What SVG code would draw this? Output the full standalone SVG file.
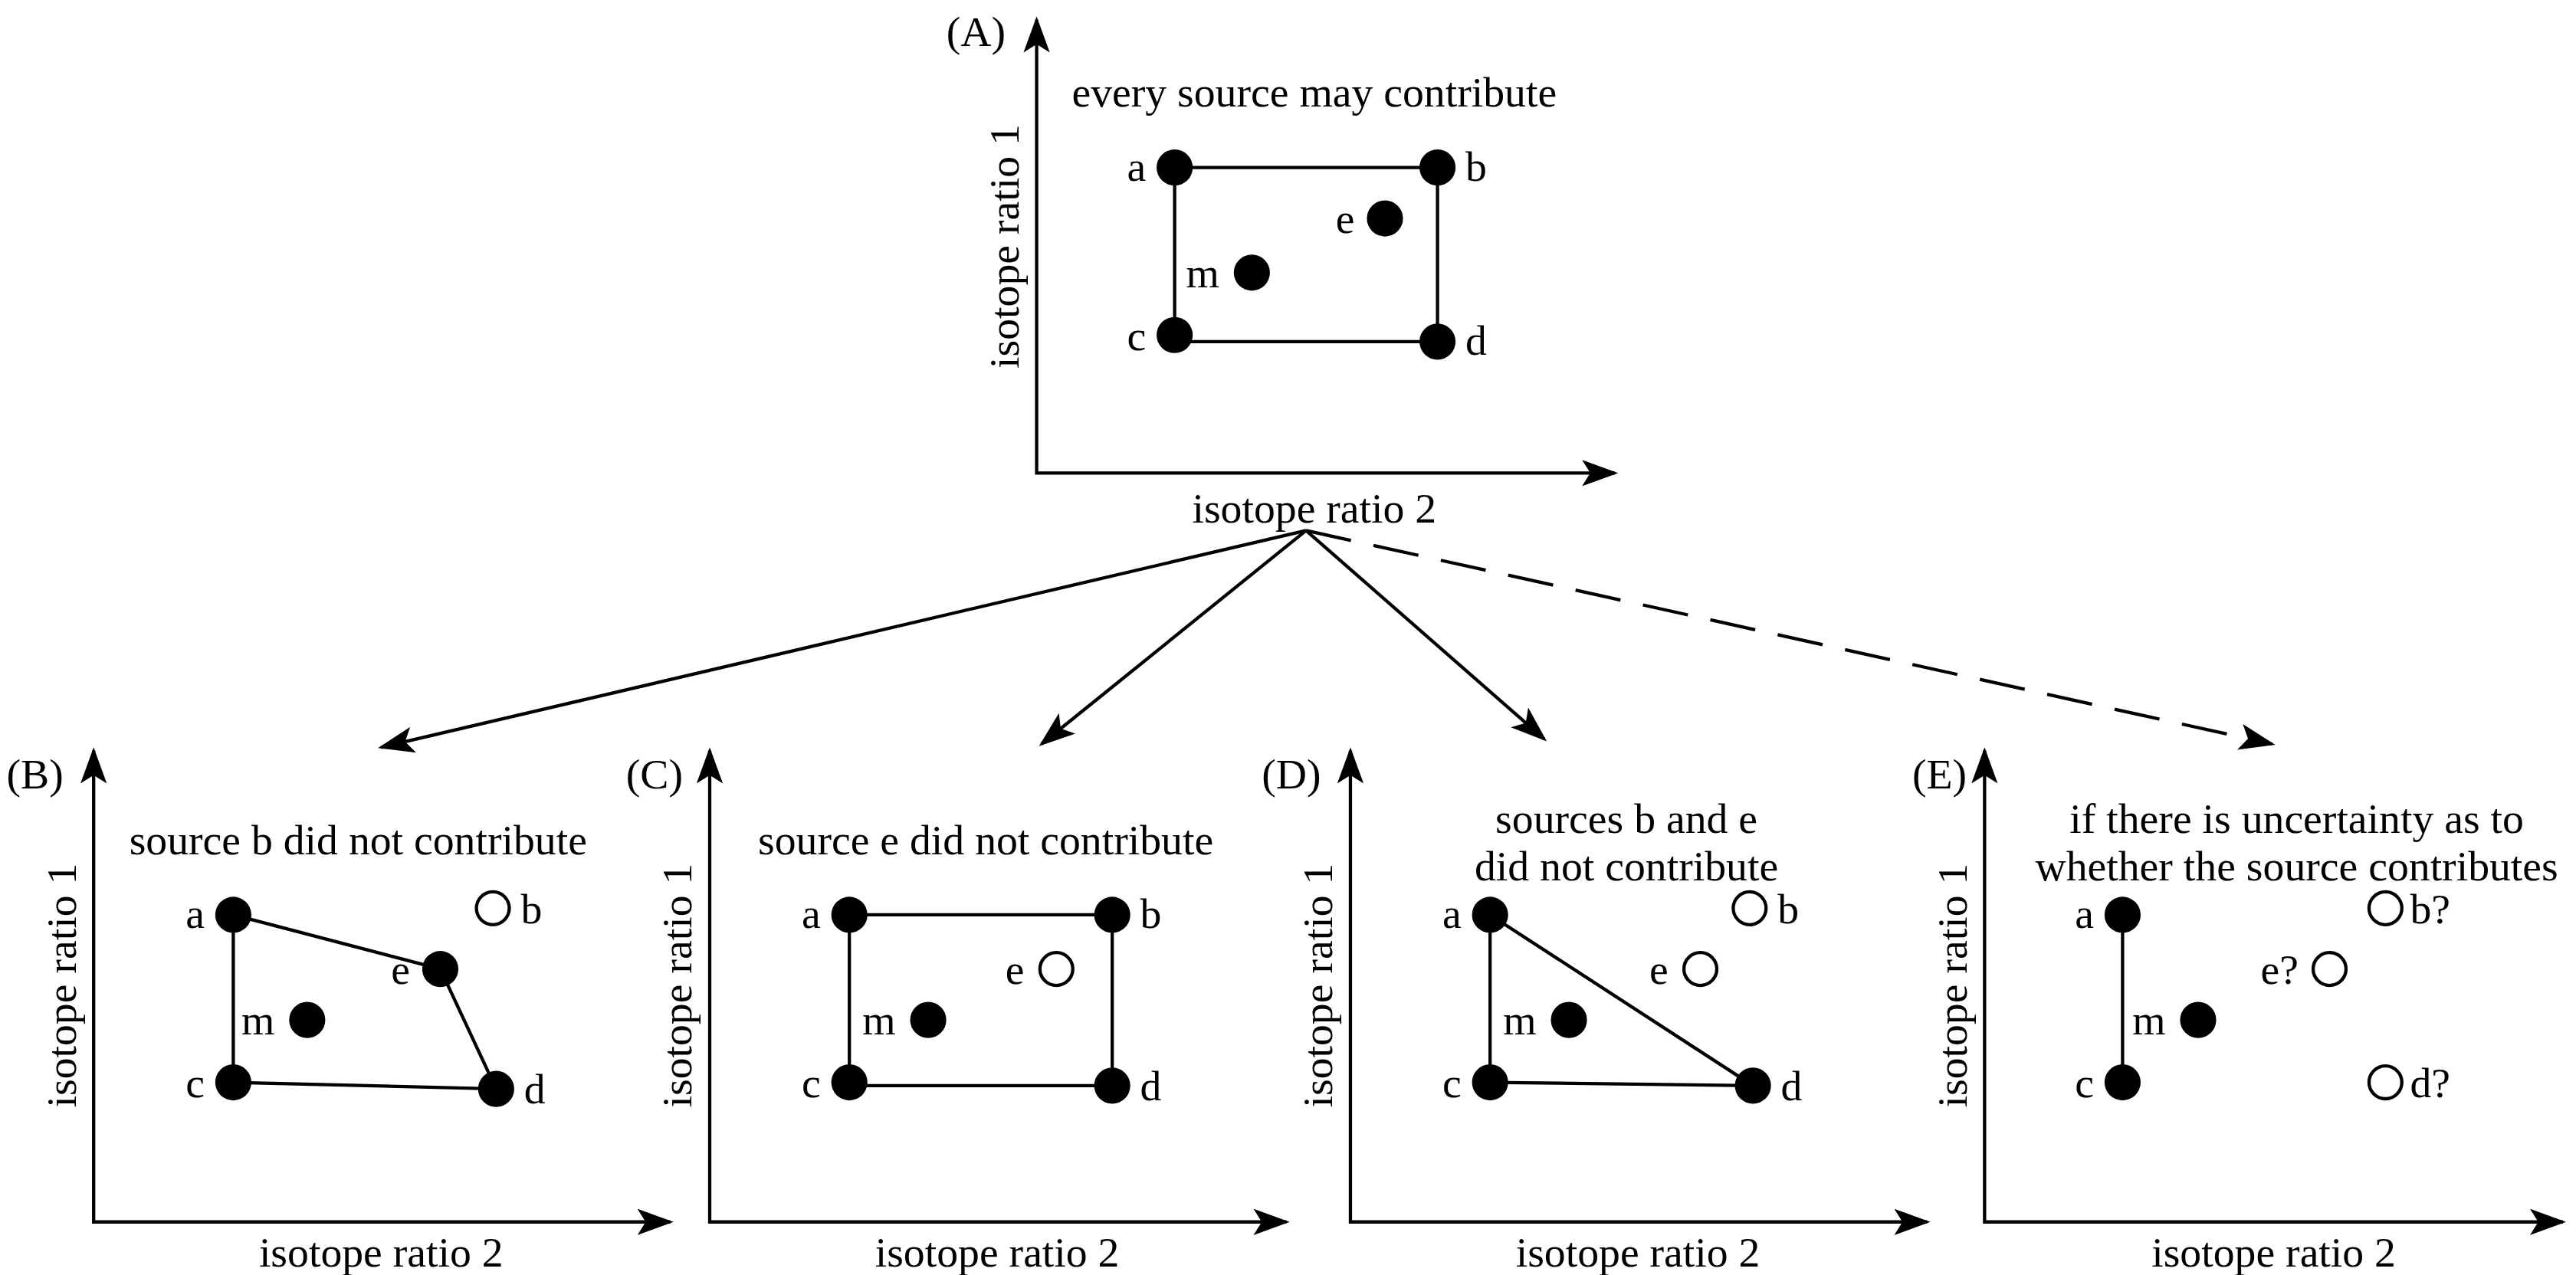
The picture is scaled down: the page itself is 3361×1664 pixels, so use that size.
<svg xmlns="http://www.w3.org/2000/svg" width="3361" height="1664" viewBox="0 0 3361 1664">
<style>
text{font-family:"Liberation Serif",serif;font-size:26px;fill:#000}
.t{text-anchor:middle}
.ax{stroke:#000;stroke-width:2;fill:none}
.ln{stroke:#000;stroke-width:2;fill:none}
.f{fill:#000}
.o{fill:#fff;stroke:#000;stroke-width:2}
</style>
<defs>
<marker id="ah" markerUnits="userSpaceOnUse" markerWidth="22" markerHeight="16" refX="20" refY="8" orient="auto-start-reverse"><path d="M0,0 L22,8 L0,16 L5,8 Z" fill="#000"/></marker>
</defs>
<rect width="3361" height="1664" fill="#fff"/>
<g transform="scale(2.1435)">
<g id="panelA">
<path class="ax" d="M631,12 V288 H983" marker-start="url(#ah)" marker-end="url(#ah)"/>
<text x="576" y="28">(A)</text>
<text class="t" transform="translate(620,150) rotate(-90)">isotope ratio 1</text>
<text class="t" x="800" y="65">every source may contribute</text>
<text class="t" x="800" y="318">isotope ratio 2</text>
<path class="ln" d="M715,102 H875 V208 H715 Z"/>
<circle class="f" cx="715" cy="102" r="11"/><circle class="f" cx="875" cy="102" r="11"/>
<circle class="f" cx="715" cy="204" r="11"/><circle class="f" cx="875" cy="208" r="11"/>
<circle class="f" cx="843" cy="133" r="11"/><circle class="f" cx="762" cy="166" r="11"/>
<text x="686" y="110">a</text><text x="892" y="110">b</text><text x="686" y="213">c</text><text x="892" y="216">d</text><text x="813" y="142">e</text><text x="722" y="175">m</text>
</g>
<g id="connectors">
<path class="ln" d="M795,323 L232,455" marker-end="url(#ah)"/>
<path class="ln" d="M795,323 L634,453" marker-end="url(#ah)"/>
<path class="ln" d="M795,323 L940,450" marker-end="url(#ah)"/>
<path class="ln" d="M795,323 L1383,453" stroke-dasharray="28,14" marker-end="url(#ah)"/>
</g>
<g id="panelB">
<path class="ax" d="M57,457 V744 H408" marker-start="url(#ah)" marker-end="url(#ah)"/>
<text x="4" y="480">(B)</text>
<text class="t" transform="translate(46,600) rotate(-90)">isotope ratio 1</text>
<text class="t" x="218" y="520">source b did not contribute</text>
<text class="t" x="232" y="771">isotope ratio 2</text>
<path class="ln" d="M142,557 L268,590 L302,663 L142,659 Z"/>
<circle class="f" cx="142" cy="557" r="11"/><circle class="f" cx="268" cy="590" r="11"/><circle class="f" cx="302" cy="663" r="11"/><circle class="f" cx="142" cy="659" r="11"/><circle class="f" cx="187" cy="621" r="11"/>
<circle class="o" cx="300" cy="553" r="10"/>
<text x="113" y="565">a</text><text x="317" y="562">b</text><text x="113" y="668">c</text><text x="319" y="672">d</text><text x="238" y="599">e</text><text x="147" y="630">m</text>
</g>
<g id="panelC">
<path class="ax" d="M432,457 V744 H783" marker-start="url(#ah)" marker-end="url(#ah)"/>
<text x="381" y="480">(C)</text>
<text class="t" transform="translate(421,600) rotate(-90)">isotope ratio 1</text>
<text class="t" x="600" y="520">source e did not contribute</text>
<text class="t" x="607" y="771">isotope ratio 2</text>
<path class="ln" d="M517,557 H677 V661 H517 Z"/>
<circle class="f" cx="517" cy="557" r="11"/><circle class="f" cx="677" cy="557" r="11"/><circle class="f" cx="517" cy="659" r="11"/><circle class="f" cx="677" cy="661" r="11"/><circle class="f" cx="565" cy="621" r="11"/>
<circle class="o" cx="643" cy="590" r="10"/>
<text x="488" y="565">a</text><text x="694" y="565">b</text><text x="488" y="668">c</text><text x="694" y="670">d</text><text x="612" y="599">e</text><text x="525" y="630">m</text>
</g>
<g id="panelD">
<path class="ax" d="M822,457 V744 H1173" marker-start="url(#ah)" marker-end="url(#ah)"/>
<text x="768" y="480">(D)</text>
<text class="t" transform="translate(811,600) rotate(-90)">isotope ratio 1</text>
<text class="t" x="990" y="507">sources b and e</text>
<text class="t" x="990" y="536">did not contribute</text>
<text class="t" x="997" y="771">isotope ratio 2</text>
<path class="ln" d="M907,557 L1067,661 L907,659 Z"/>
<circle class="f" cx="907" cy="557" r="11"/><circle class="f" cx="1067" cy="661" r="11"/><circle class="f" cx="907" cy="659" r="11"/><circle class="f" cx="955" cy="621" r="11"/>
<circle class="o" cx="1035" cy="590" r="10"/><circle class="o" cx="1065" cy="553" r="10"/>
<text x="878" y="565">a</text><text x="1082" y="562">b</text><text x="878" y="668">c</text><text x="1084" y="670">d</text><text x="1004" y="599">e</text><text x="915" y="630">m</text>
</g>
<g id="panelE">
<path class="ax" d="M1208,457 V744 H1560" marker-start="url(#ah)" marker-end="url(#ah)"/>
<text x="1164" y="480">(E)</text>
<text class="t" transform="translate(1197,600) rotate(-90)">isotope ratio 1</text>
<text class="t" x="1398" y="507">if there is uncertainty as to</text>
<text class="t" x="1398" y="536">whether the source contributes</text>
<text class="t" x="1384" y="771">isotope ratio 2</text>
<path class="ln" d="M1292,557 V659"/>
<circle class="f" cx="1292" cy="557" r="11"/><circle class="f" cx="1292" cy="659" r="11"/><circle class="f" cx="1338" cy="621" r="11"/>
<circle class="o" cx="1452" cy="553" r="10"/><circle class="o" cx="1418" cy="590" r="10"/><circle class="o" cx="1452" cy="659" r="10"/>
<text x="1263" y="565">a</text><text x="1263" y="668">c</text><text x="1298" y="630">m</text>
<text x="1467" y="562">b?</text><text x="1376" y="599">e?</text><text x="1467" y="668">d?</text>
</g>
</g>
</svg>
